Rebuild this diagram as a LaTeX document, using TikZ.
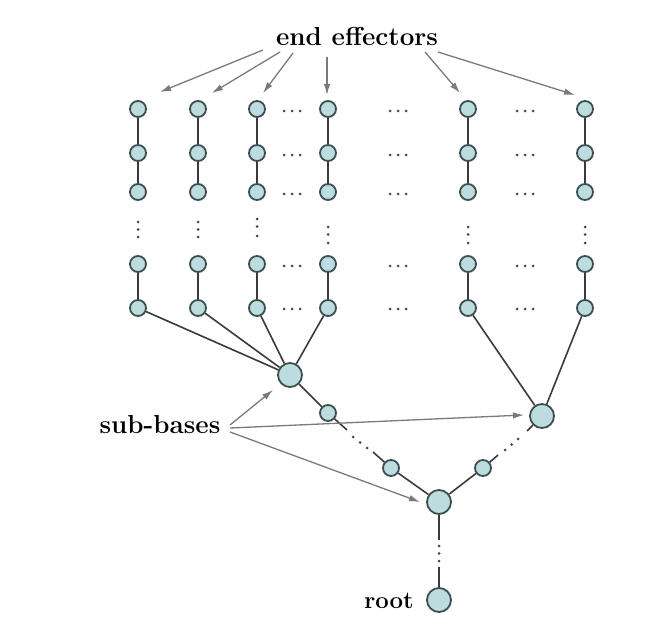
\documentclass[tikz,border=0pt]{standalone}
\usetikzlibrary{arrows.meta}
\definecolor{nfill}{HTML}{BCDCDF}
\definecolor{nline}{HTML}{3D4E50}
\definecolor{eline}{HTML}{3A3A3A}
\definecolor{agray}{HTML}{7A7A7A}
\definecolor{dotc}{HTML}{484848}
\tikzset{
  sn/.style={circle,draw=nline,fill=nfill,line width=1.8pt,minimum size=16pt,inner sep=0pt},
  bn/.style={circle,draw=nline,fill=nfill,line width=1.8pt,minimum size=24pt,inner sep=0pt},
  edge/.style={draw=eline,line width=1.6pt},
  arr/.style={draw=agray,line width=1.3pt,-{Latex[length=11pt,width=6.5pt]}},
  lbl/.style={anchor=base,inner sep=0pt},
}
\newcommand{\mydot}[2]{\fill[dotc] (#1,#2) circle (1.5pt);}
\newcommand{\hdots}[2]{\mydot{#1-8}{#2}\mydot{#1}{#2}\mydot{#1+8}{#2}}
\newcommand{\vdotsat}[3]{\mydot{#1}{#2}\mydot{#1}{#2+7.5}\mydot{#1}{#3}}
\begin{document}
\begin{tikzpicture}[x=1pt,y=-1pt]
\useasboundingbox (0,0) rectangle (647,623);
% column nodes
\foreach \c/\x in {1/138,2/198,3/257,4/328,5/468,6/585}{
  \node[sn] (n\c a) at (\x,109) {};
  \node[sn] (n\c b) at (\x,153) {};
  \node[sn] (n\c c) at (\x,192) {};
  \node[sn] (n\c d) at (\x,264) {};
  \node[sn] (n\c e) at (\x,308) {};
  \draw[edge] (n\c a) -- (n\c b);
  \draw[edge] (n\c b) -- (n\c c);
  \draw[edge] (n\c d) -- (n\c e);
}
% vertical dots
\vdotsat{138}{222}{237}
\vdotsat{198}{222}{237}
\vdotsat{257}{219}{236}
\vdotsat{328}{227}{243}
\vdotsat{468}{227}{243}
\vdotsat{585}{227}{243}
% horizontal dots
\foreach \y in {111,155,194,266,309}{
  \hdots{292}{\y}
  \hdots{398}{\y}
  \hdots{525}{\y}
}
% sub-bases and chain
\node[bn] (A) at (290,375) {};
\node[bn] (B) at (542,416) {};
\node[bn] (C) at (439,502) {};
\node[bn] (R) at (439,600) {};
\node[sn] (p1) at (328,413) {};
\node[sn] (p2) at (391,468) {};
\node[sn] (q1) at (483,468) {};
\foreach \c in {1,2,3,4}{\draw[edge] (n\c e) -- (A);}
\foreach \c in {5,6}{\draw[edge] (n\c e) -- (B);}
\draw[edge] (A) -- (p1);
\draw[edge] (p2) -- (C);
\draw[edge] (C) -- (q1);
% broken links
\coordinate (s1) at (347,430);
\coordinate (s2) at (373,452);
\draw[edge] (p1) -- (s1);
\draw[edge] (s2) -- (p2);
\mydot{353}{437}\mydot{360}{442.5}\mydot{367}{448}
\coordinate (t1) at (498,455);
\coordinate (t2) at (527,431);
\draw[edge] (q1) -- (t1);
\draw[edge] (t2) -- (B);
\mydot{505}{450}\mydot{511.5}{444.5}\mydot{518}{439}
\coordinate (r1) at (439,540);
\coordinate (r2) at (439,567);
\draw[edge] (C) -- (r1);
\draw[edge] (r2) -- (R);
\mydot{439}{546}\mydot{439}{553.5}\mydot{439}{561}
% labels
\node[lbl,font=\fontsize{26}{30}\selectfont\bfseries] (ee) at (357,46) {end effectors};
\node[lbl,font=\fontsize{26}{30}\selectfont\bfseries] (sb) at (160,433) {sub-bases};
\node[lbl,font=\fontsize{24}{28}\selectfont\bfseries] (rt) at (389,608) {root};
% end effector arrows
\coordinate (e1s) at (263,50); \coordinate (e1e) at (160,92);
\coordinate (e2s) at (280,52); \coordinate (e2e) at (212,93);
\coordinate (e3s) at (293,53); \coordinate (e3e) at (263,93);
\coordinate (e4s) at (327,57); \coordinate (e4e) at (327,95);
\coordinate (e5s) at (425,52); \coordinate (e5e) at (460,93);
\coordinate (e6s) at (438,52); \coordinate (e6e) at (575,95);
\foreach \i in {1,...,6}{\draw[arr] (e\i s) -- (e\i e);}
% sub-base arrows
\coordinate (b1s) at (230,425); \coordinate (b1e) at (273,390);
\coordinate (b2s) at (230,428); \coordinate (b2e) at (524,415);
\coordinate (b3s) at (230,432); \coordinate (b3e) at (420,502);
\foreach \i in {1,2,3}{\draw[arr] (b\i s) -- (b\i e);}
\end{tikzpicture}
\end{document}
